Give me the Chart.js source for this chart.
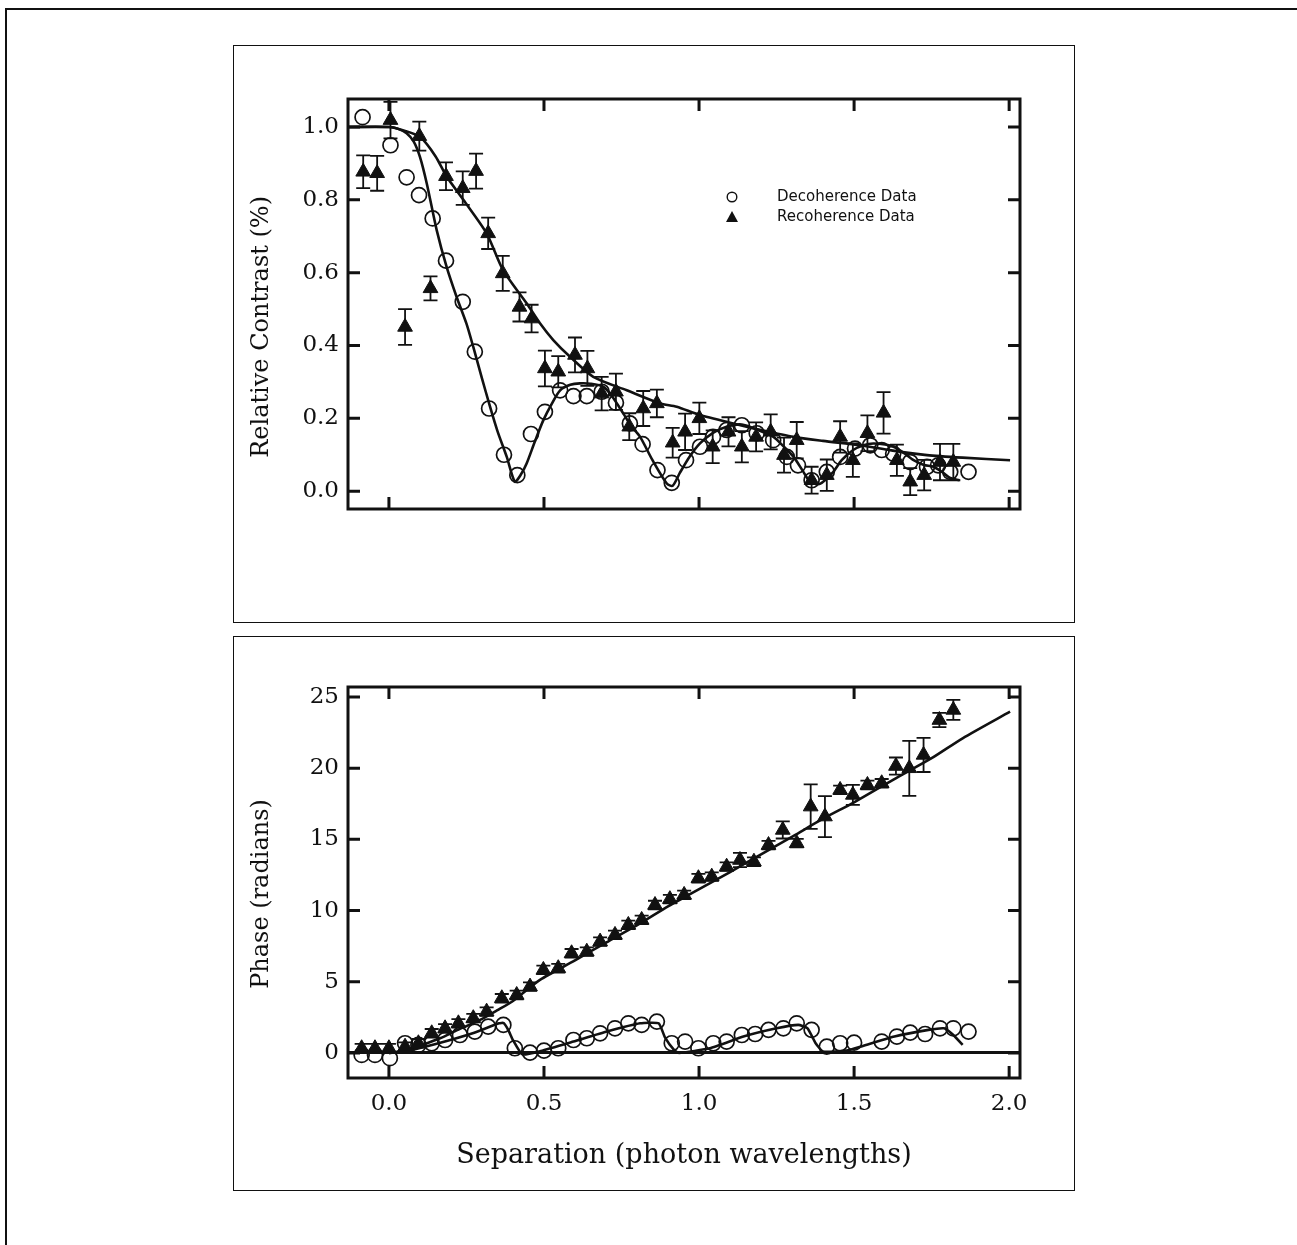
<!DOCTYPE html>
<html><head><meta charset="utf-8">
<script src="https://cdn.jsdelivr.net/npm/chart.js@4.4.1/dist/chart.umd.min.js"></script>
<style>
html,body{margin:0;padding:0;background:#fff;width:1297px;height:1245px;overflow:hidden;}
#outer{position:absolute;left:5px;top:8px;width:1400px;height:1400px;border-left:2px solid #111;border-top:2px solid #111;}
.panel{position:absolute;left:233px;width:842px;border:1.5px solid #111;box-sizing:border-box;}
canvas{position:absolute;}
</style></head><body>
<div id="outer"></div>
<div class="panel" style="top:45px;height:578px"></div>
<div class="panel" style="top:636px;height:555px"></div>
<canvas id="c1" width="841" height="577" style="left:233px;top:45px"></canvas>
<canvas id="c2" width="841" height="554" style="left:233px;top:636px"></canvas>
<script>
// ---------- tick values / labels ----------
const xTickVals = [0, 0.5, 1.0, 1.5, 2.0];
const xTickLabels = ['0.0', '0.5', '1.0', '1.5', '2.0'];
const contrastTickVals = [0, 0.2, 0.4, 0.6, 0.8, 1.0];
const contrastTickLabels = ['0.0', '0.2', '0.4', '0.6', '0.8', '1.0'];
const phaseTickVals = [0, 5, 10, 15, 20, 25];
const phaseTickLabels = ['0', '5', '10', '15', '20', '25'];

// ---------- top panel: relative contrast ----------
const decX = [-0.085, 0.005, 0.057, 0.097, 0.141, 0.184, 0.238, 0.277, 0.323, 0.371, 0.414, 0.458, 0.503, 0.552, 0.595, 0.638, 0.686, 0.732, 0.777, 0.818, 0.866, 0.912, 0.958, 1.003, 1.045, 1.089, 1.138, 1.186, 1.239, 1.283, 1.319, 1.363, 1.412, 1.455, 1.503, 1.552, 1.589, 1.626, 1.681, 1.735, 1.771, 1.81, 1.869];
const decY = [1.027, 0.95, 0.862, 0.813, 0.749, 0.633, 0.52, 0.383, 0.227, 0.10, 0.044, 0.157, 0.218, 0.277, 0.261, 0.261, 0.273, 0.243, 0.186, 0.129, 0.058, 0.023, 0.085, 0.122, 0.149, 0.168, 0.181, 0.159, 0.14, 0.094, 0.071, 0.03, 0.053, 0.094, 0.117, 0.126, 0.113, 0.103, 0.08, 0.067, 0.071, 0.053, 0.053];

const recX = [-0.083, -0.038, 0.005, 0.052, 0.098, 0.134, 0.184, 0.238, 0.281, 0.32, 0.367, 0.421, 0.46, 0.503, 0.546, 0.6, 0.64, 0.686, 0.732, 0.775, 0.82, 0.864, 0.915, 0.955, 1.001, 1.044, 1.095, 1.138, 1.184, 1.231, 1.274, 1.315, 1.363, 1.412, 1.455, 1.496, 1.543, 1.595, 1.638, 1.681, 1.726, 1.777, 1.82];
const recY = [0.877, 0.873, 1.019, 0.451, 0.975, 0.557, 0.865, 0.832, 0.879, 0.708, 0.598, 0.506, 0.474, 0.337, 0.328, 0.374, 0.337, 0.268, 0.273, 0.177, 0.227, 0.241, 0.133, 0.163, 0.2, 0.122, 0.163, 0.122, 0.149, 0.163, 0.099, 0.14, 0.03, 0.044, 0.149, 0.085, 0.159, 0.215, 0.085, 0.026, 0.044, 0.08, 0.08];
const recErr = [0.045, 0.048, 0.05, 0.049, 0.04, 0.033, 0.038, 0.046, 0.048, 0.043, 0.048, 0.04, 0.038, 0.049, 0.043, 0.048, 0.048, 0.046, 0.05, 0.037, 0.048, 0.038, 0.041, 0.05, 0.043, 0.045, 0.04, 0.043, 0.04, 0.048, 0.048, 0.05, 0.037, 0.043, 0.043, 0.046, 0.049, 0.057, 0.043, 0.037, 0.042, 0.05, 0.05];

const decFitX = [-0.132, 0.0, 0.03, 0.057, 0.08, 0.1, 0.122, 0.154, 0.186, 0.218, 0.25, 0.272, 0.3, 0.326, 0.35, 0.38, 0.406, 0.425, 0.444, 0.47, 0.498, 0.525, 0.552, 0.585, 0.616, 0.65, 0.691, 0.72, 0.756, 0.78, 0.81, 0.85, 0.896, 0.915, 0.938, 0.97, 1.003, 1.045, 1.089, 1.138, 1.19, 1.24, 1.27, 1.305, 1.335, 1.358, 1.39, 1.43, 1.46, 1.497, 1.53, 1.562, 1.6, 1.627, 1.66, 1.692, 1.725, 1.756, 1.785, 1.81, 1.84];
const decFitY = [1.0, 1.0, 0.995, 0.983, 0.96, 0.918, 0.845, 0.717, 0.616, 0.534, 0.46, 0.396, 0.31, 0.232, 0.165, 0.094, 0.026, 0.045, 0.076, 0.135, 0.195, 0.24, 0.277, 0.292, 0.296, 0.295, 0.287, 0.26, 0.213, 0.18, 0.149, 0.085, 0.021, 0.015, 0.05, 0.095, 0.131, 0.16, 0.177, 0.183, 0.168, 0.149, 0.125, 0.094, 0.055, 0.026, 0.02, 0.05, 0.085, 0.113, 0.126, 0.131, 0.128, 0.122, 0.105, 0.085, 0.072, 0.067, 0.052, 0.036, 0.03];

const recFitX = [-0.132, 0.0, 0.05, 0.1, 0.15, 0.186, 0.24, 0.315, 0.368, 0.444, 0.487, 0.53, 0.584, 0.659, 0.767, 0.874, 0.928, 1.0, 1.111, 1.2, 1.305, 1.4, 1.519, 1.62, 1.735, 1.85, 2.003];
const recFitY = [1.0, 1.0, 0.99, 0.973, 0.92, 0.864, 0.8, 0.708, 0.607, 0.516, 0.461, 0.415, 0.369, 0.314, 0.277, 0.241, 0.232, 0.21, 0.186, 0.168, 0.149, 0.138, 0.126, 0.112, 0.099, 0.092, 0.085];

// ---------- bottom panel: phase ----------
const phDecX = [-0.088, -0.045, 0.003, 0.052, 0.095, 0.138, 0.181, 0.229, 0.277, 0.32, 0.369, 0.406, 0.455, 0.5, 0.546, 0.595, 0.638, 0.681, 0.729, 0.772, 0.815, 0.864, 0.912, 0.955, 0.998, 1.046, 1.089, 1.138, 1.181, 1.224, 1.272, 1.315, 1.363, 1.412, 1.455, 1.5, 1.589, 1.638, 1.681, 1.729, 1.777, 1.82, 1.869];
const phDecY = [-0.14, -0.14, -0.37, 0.68, 0.56, 0.68, 0.91, 1.26, 1.5, 1.85, 1.97, 0.33, 0.02, 0.16, 0.33, 0.91, 1.03, 1.38, 1.73, 2.08, 1.97, 2.2, 0.68, 0.8, 0.33, 0.68, 0.8, 1.26, 1.33, 1.62, 1.73, 2.08, 1.62, 0.44, 0.68, 0.72, 0.8, 1.15, 1.43, 1.33, 1.73, 1.73, 1.5];

const phRecX = [-0.088, -0.045, 0.0, 0.052, 0.095, 0.138, 0.181, 0.224, 0.272, 0.315, 0.364, 0.412, 0.455, 0.498, 0.546, 0.589, 0.638, 0.681, 0.729, 0.772, 0.815, 0.858, 0.906, 0.952, 0.998, 1.041, 1.089, 1.132, 1.177, 1.224, 1.27, 1.315, 1.36, 1.406, 1.455, 1.496, 1.543, 1.589, 1.635, 1.678, 1.724, 1.775, 1.82];
const phRecY = [0.33, 0.33, 0.33, 0.44, 0.68, 1.38, 1.73, 2.08, 2.44, 2.9, 3.84, 4.07, 4.66, 5.83, 5.95, 7.0, 7.11, 7.82, 8.29, 8.99, 9.34, 10.39, 10.8, 11.1, 12.27, 12.38, 13.08, 13.55, 13.43, 14.6, 15.66, 14.73, 17.3, 16.6, 18.47, 18.12, 18.82, 18.94, 20.15, 19.99, 20.93, 23.38, 24.09];
const phRecErr = [0.3, 0.3, 0.3, 0.3, 0.3, 0.3, 0.3, 0.3, 0.3, 0.3, 0.3, 0.3, 0.3, 0.3, 0.3, 0.3, 0.3, 0.3, 0.3, 0.3, 0.3, 0.3, 0.3, 0.3, 0.3, 0.3, 0.3, 0.5, 0.3, 0.3, 0.6, 0.3, 1.56, 1.44, 0.3, 0.7, 0.3, 0.3, 0.6, 1.93, 1.2, 0.5, 0.7];

const phRecFitX = [0.0, 0.06, 0.1, 0.165, 0.22, 0.294, 0.35, 0.4, 0.487, 0.6, 0.7, 0.81, 0.9, 0.971, 1.1, 1.2, 1.305, 1.4, 1.5, 1.627, 1.75, 1.85, 2.003];
const phRecFitY = [0.0, 0.2, 0.5, 1.03, 1.6, 2.32, 3.0, 3.65, 5.13, 6.5, 7.75, 9.1, 10.3, 11.15, 12.7, 13.95, 15.25, 16.45, 17.6, 19.2, 20.7, 22.1, 23.97];

const phDecFitX = [0.0, 0.05, 0.16, 0.27, 0.355, 0.37, 0.385, 0.4, 0.43, 0.49, 0.595, 0.703, 0.81, 0.87, 0.89, 0.92, 0.935, 1.035, 1.143, 1.25, 1.32, 1.35, 1.376, 1.40, 1.476, 1.52, 1.63, 1.74, 1.79, 1.82, 1.85];
const phDecFitY = [0.0, 0.1, 0.68, 1.38, 2.08, 2.1, 1.6, 0.9, -0.1, 0.14, 0.8, 1.5, 2.08, 2.08, 1.1, 0.2, 0.0, 0.33, 1.15, 1.73, 1.97, 1.73, 0.68, 0.1, 0.16, 0.44, 1.15, 1.62, 1.73, 1.26, 0.56];

// ---------- helpers ----------
const INK = '#111';
const pts = (xs, ys) => xs.map((x, i) => ({x: x, y: ys[i]}));
const tickFont = {family: '"DejaVu Serif", serif', size: 23};
const yTitleFont = {family: '"DejaVu Serif", serif', size: 24};
const xTitleFont = {family: '"DejaVu Serif", serif', size: 27};

const framePlugin = {
  id: 'frame',
  beforeDatasetsDraw(chart) {
    const {ctx, chartArea: a, scales} = chart;
    const L = 12;
    ctx.save();
    ctx.strokeStyle = INK;
    ctx.lineWidth = 3;
    ctx.strokeRect(a.left, a.top, a.right - a.left, a.bottom - a.top);
    ctx.beginPath();
    scales.x.ticks.forEach(t => {
      const px = scales.x.getPixelForValue(t.value);
      ctx.moveTo(px, a.bottom); ctx.lineTo(px, a.bottom - L);
      ctx.moveTo(px, a.top); ctx.lineTo(px, a.top + L);
    });
    scales.y.ticks.forEach(t => {
      const py = scales.y.getPixelForValue(t.value);
      ctx.moveTo(a.left, py); ctx.lineTo(a.left + L, py);
      ctx.moveTo(a.right, py); ctx.lineTo(a.right - L, py);
    });
    ctx.stroke();
    ctx.restore();
  }
};

function makeErrPlugin(xs, ys, es) {
  return {
    id: 'errBars',
    beforeDatasetsDraw(chart) {
      const {ctx, chartArea: a, scales} = chart;
      ctx.save();
      ctx.beginPath();
      ctx.rect(a.left, a.top, a.right - a.left, a.bottom - a.top);
      ctx.clip();
      ctx.strokeStyle = INK;
      ctx.lineWidth = 1.8;
      ctx.beginPath();
      xs.forEach((x, i) => {
        const px = scales.x.getPixelForValue(x);
        const p1 = scales.y.getPixelForValue(ys[i] + es[i]);
        const p2 = scales.y.getPixelForValue(ys[i] - es[i]);
        ctx.moveTo(px, p1); ctx.lineTo(px, p2);
        ctx.moveTo(px - 7, p1); ctx.lineTo(px + 7, p1);
        ctx.moveTo(px - 7, p2); ctx.lineTo(px + 7, p2);
      });
      ctx.stroke();
      ctx.restore();
    }
  };
}

const legendPlugin = {
  id: 'legendBox',
  afterDatasetsDraw(chart) {
    const {ctx, chartArea: a} = chart;
    const dsCirc = chart.data.datasets.find(d => d.pointStyle === 'circle');
    const dsTri = chart.data.datasets.find(d => d.pointStyle === 'triangle');
    const x0 = a.left + 384, y0 = a.top + 98, dy = 20;
    ctx.save();
    ctx.fillStyle = INK; ctx.strokeStyle = INK;
    ctx.lineWidth = 1.4;
    ctx.beginPath(); ctx.arc(x0, y0, 4.8, 0, Math.PI * 2); ctx.stroke();
    ctx.beginPath();
    ctx.moveTo(x0, y0 + dy - 6); ctx.lineTo(x0 + 6, y0 + dy + 5); ctx.lineTo(x0 - 6, y0 + dy + 5);
    ctx.closePath(); ctx.fill();
    ctx.font = '15px "DejaVu Sans", sans-serif';
    ctx.textBaseline = 'middle';
    ctx.fillText(dsCirc.label, x0 + 45, y0);
    ctx.fillText(dsTri.label, x0 + 45, y0 + dy);
    ctx.restore();
  }
};

function yAxis(min, max, vals, labels, title, zeroLine) {
  return {
    type: 'linear', min: min, max: max,
    afterBuildTicks: s => { s.ticks = vals.map(v => ({value: v})); },
    afterFit: s => { s.width = 115; },
    ticks: {callback: (v, i) => labels[i], font: tickFont, color: INK, padding: 9},
    grid: zeroLine ? {display: true, drawTicks: false, lineWidth: 3,
      color: c => (c.tick && c.tick.value === 0) ? INK : 'rgba(0,0,0,0)'} : {display: false, drawTicks: false},
    border: {display: false},
    title: {display: true, text: title, font: yTitleFont, color: INK, padding: {top: 14, bottom: 0}}
  };
}

function xAxis(showLabels, height) {
  return {
    type: 'linear', min: -0.132, max: 2.035,
    afterBuildTicks: s => { s.ticks = xTickVals.map(v => ({value: v})); },
    afterFit: s => { s.height = height; },
    ticks: {display: showLabels, callback: (v, i) => xTickLabels[i], font: tickFont, color: INK, padding: 12, maxRotation: 0},
    grid: {display: false, drawTicks: false},
    border: {display: false},
    title: {display: showLabels, text: 'Separation (photon wavelengths)', font: xTitleFont, color: INK, padding: {top: 0, bottom: 18}}
  };
}

const common = {
  responsive: false, animation: false, devicePixelRatio: 1,
  plugins: {legend: {display: false}, tooltip: {enabled: false}}
};

// trailing spaces shift the rotated, centred y titles toward the lower part of the axis, as in the original
new Chart(document.getElementById('c1'), {
  type: 'scatter',
  data: {datasets: [
    {label: 'Recoherence Data', data: pts(recX, recY), pointStyle: 'triangle', pointRadius: 8.5,
      backgroundColor: INK, borderColor: INK, borderWidth: 1, order: 0},
    {label: 'Decoherence Data', data: pts(decX, decY), pointStyle: 'circle', pointRadius: 7.5,
      backgroundColor: 'rgba(255,255,255,0)', borderColor: INK, borderWidth: 1.7, order: 1},
    {label: 'Decoherence fit', data: pts(decFitX, decFitY), showLine: true, pointRadius: 0,
      borderColor: INK, borderWidth: 2.6, tension: 0.25, order: 2},
    {label: 'Recoherence fit', data: pts(recFitX, recFitY), showLine: true, pointRadius: 0,
      borderColor: INK, borderWidth: 2.6, tension: 0.25, order: 2}
  ]},
  options: Object.assign({}, common, {
    layout: {padding: {left: 0, top: 54, right: 54, bottom: 0}},
    scales: {
      x: xAxis(false, 113),
      y: yAxis(-0.049, 1.077, contrastTickVals, contrastTickLabels, 'Relative Contrast (%)      ', false)
    }
  }),
  plugins: [framePlugin, makeErrPlugin(recX, recY, recErr), legendPlugin]
});

new Chart(document.getElementById('c2'), {
  type: 'scatter',
  data: {datasets: [
    {label: 'Recoherence Data', data: pts(phRecX, phRecY), pointStyle: 'triangle', pointRadius: 8.5,
      backgroundColor: INK, borderColor: INK, borderWidth: 1, order: 0},
    {label: 'Decoherence Data', data: pts(phDecX, phDecY), pointStyle: 'circle', pointRadius: 7.5,
      backgroundColor: 'rgba(255,255,255,0)', borderColor: INK, borderWidth: 1.7, order: 1},
    {label: 'Decoherence fit', data: pts(phDecFitX, phDecFitY), showLine: true, pointRadius: 0,
      borderColor: INK, borderWidth: 2.6, tension: 0.15, order: 2},
    {label: 'Recoherence fit', data: pts(phRecFitX, phRecFitY), showLine: true, pointRadius: 0,
      borderColor: INK, borderWidth: 2.6, tension: 0.25, order: 2}
  ]},
  options: Object.assign({}, common, {
    layout: {padding: {left: 0, top: 51, right: 54, bottom: 0}},
    scales: {
      x: xAxis(true, 112),
      y: yAxis(-1.76, 25.7, phaseTickVals, phaseTickLabels, 'Phase (radians)   ', true)
    }
  }),
  plugins: [framePlugin, makeErrPlugin(phRecX, phRecY, phRecErr)]
});
</script>
</body></html>
